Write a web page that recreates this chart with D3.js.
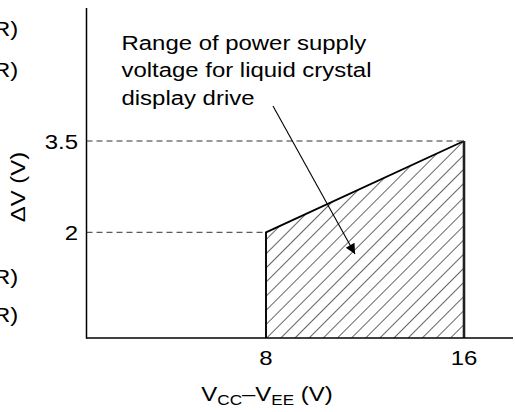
<!DOCTYPE html>
<html><head><meta charset="utf-8">
<script src="https://cdn.jsdelivr.net/npm/d3@7"></script>
<style>
html,body{margin:0;padding:0;background:#fff;}
svg{display:block;font-family:"Liberation Sans",Arial,sans-serif;}
</style></head>
<body><svg id="c" width="515" height="412"></svg>
<script>
// Data
const rangeX = [8, 16];          // Vcc-Vee (V)
const rangeTop = [2, 3.5];       // upper bound of ΔV at each end
const xTicks = [8, 16];
const yTicks = [2, 3.5];
const annotation = ["Range of power supply", "voltage for liquid crystal", "display drive"];
const sideLabels = ["R)", "R)", "R)", "R)"];

const svg = d3.select("#c");
const ox = 86.5, oy = 338;
const x = d3.scaleLinear().domain([8, 16]).range([266, 464]);
const y = d3.scaleLinear().domain([2, 3.5]).range([232.3, 141]);
const FS = 21, SX = 1.14;

// hatch pattern
const defs = svg.append("defs");
const pat = defs.append("pattern").attr("id","hatch").attr("patternUnits","userSpaceOnUse")
  .attr("width",10).attr("height",10).attr("patternTransform","translate(266,338) rotate(45)");
pat.append("line").attr("x1",0).attr("y1",-5).attr("x2",0).attr("y2",15)
  .attr("stroke","#000").attr("stroke-width",1.2);

// region polygon
const pts = [[rangeX[0], rangeTop[0]], [rangeX[1], rangeTop[1]]];
const poly = [[x(rangeX[0]), oy], [x(pts[0][0]), y(pts[0][1])], [x(pts[1][0]), y(pts[1][1])], [x(rangeX[1]), oy]];
svg.append("path").attr("d", d3.line()(poly) + "Z").attr("fill","url(#hatch)").attr("stroke","none");
svg.append("path").attr("d", d3.line()(poly.slice(0,3))).attr("fill","none").attr("stroke","#000").attr("stroke-width",1.9);
svg.append("line").attr("x1",x(rangeX[1])).attr("x2",x(rangeX[1])).attr("y1",y(rangeTop[1])).attr("y2",oy)
  .attr("stroke","#222").attr("stroke-width",2.6);

// dashed guides
yTicks.forEach((v,i)=>{
  svg.append("line").attr("x1",ox).attr("x2",x(rangeX[i])).attr("y1",y(v)).attr("y2",y(v))
    .attr("stroke","#333").attr("stroke-width",1).attr("stroke-dasharray","6,4");
});

// axes
svg.append("line").attr("x1",ox).attr("x2",ox).attr("y1",8).attr("y2",oy+0.5).attr("stroke","#000").attr("stroke-width",1.5);
svg.append("line").attr("x1",ox-0.5).attr("x2",513).attr("y1",oy).attr("y2",oy).attr("stroke","#000").attr("stroke-width",1.5);

function txt(tx, ty, s, anchor){
  return svg.append("text").attr("transform",`translate(${tx},${ty}) scale(${SX},1)`)
    .attr("text-anchor",anchor||"start").attr("font-size",FS).attr("fill","#000").text(s);
}
// tick labels
yTicks.forEach(v=>txt(78, y(v)+7.5, String(v), "end"));
xTicks.forEach(v=>txt(x(v), 365, String(v), "middle"));

// axis titles
const xt = svg.append("text").attr("transform",`translate(267,401) scale(${SX},1)`)
  .attr("text-anchor","middle").attr("font-size",FS);
xt.append("tspan").text("V");
xt.append("tspan").attr("font-size",15).attr("dy",4).text("CC");
xt.append("tspan").attr("dy",-4).text("–V");
xt.append("tspan").attr("font-size",15).attr("dy",4).text("EE");
xt.append("tspan").attr("dy",-4).text(" (V)");

svg.append("text").attr("transform",`translate(25,187) rotate(-90) scale(${SX},1)`)
  .attr("text-anchor","middle").attr("font-size",FS).text("ΔV (V)");

// annotation
annotation.forEach((s,i)=>txt(121.5, 49.5 + i*27.6, s));

// arrow
defs.append("marker").attr("id","ah").attr("viewBox","0 0 10 10").attr("refX",10).attr("refY",5)
  .attr("markerWidth",14).attr("markerHeight",10).attr("markerUnits","userSpaceOnUse").attr("orient","auto")
  .append("path").attr("d","M0,0 L10,5 L0,10 Z").attr("fill","#000");
svg.append("line").attr("x1",273).attr("y1",106).attr("x2",355).attr("y2",254)
  .attr("stroke","#000").attr("stroke-width",1.1).attr("marker-end","url(#ah)");

// side labels, cut off at the left edge as in the reference
[36, 76.7, 284, 321.7].forEach((ty,i)=>txt(18.3, ty, sideLabels[i], "end"));
</script></body></html>
